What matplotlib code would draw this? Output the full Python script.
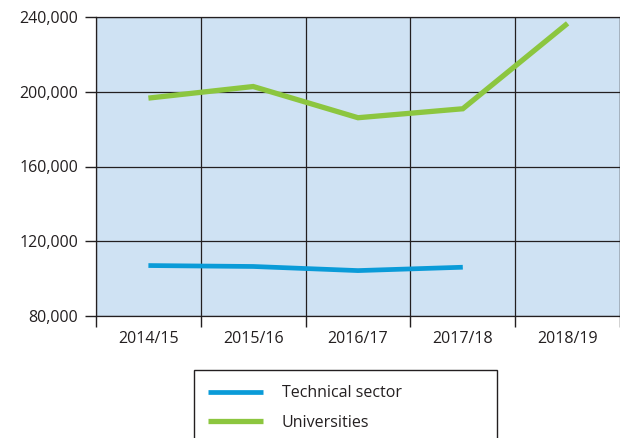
import numpy as np
import matplotlib.pyplot as plt
from matplotlib.patches import Rectangle
from matplotlib.ticker import FuncFormatter

# Student numbers by academic year
years = ['2014/15', '2015/16', '2016/17', '2017/18', '2018/19']
technical = [107000, 106500, 104300, 106100]
universities = [196600, 202800, 186100, 190900, 236600]

plt.rcParams['font.family'] = ['Open Sans', 'DejaVu Sans']
text_col = '#231f20'
grid_col = '#231f20'

fig = plt.figure(figsize=(6.2, 4.38), dpi=100)
ax = fig.add_axes([96/620, 122/438, 524/620, 299/438])
ax.set_facecolor('#cfe2f3')

x = np.arange(len(years))
l1, = ax.plot(x[:len(technical)], technical, color='#0a9bd8', lw=3.4,
              solid_capstyle='butt', solid_joinstyle='miter', label='Technical sector')
l2, = ax.plot(x, universities, color='#8cc63f', lw=3.8,
              solid_capstyle='butt', solid_joinstyle='miter', label='Universities')

ax.set_xlim(-0.5, len(years) - 0.5)
ax.set_ylim(80000, 240000)
ax.set_yticks(np.arange(80000, 240001, 40000))
ax.yaxis.set_major_formatter(FuncFormatter(lambda v, p: f'{int(v):,}'))

# category labels in the middle, ticks and grid on the boundaries
ax.set_xticks(x)
ax.set_xticklabels(years)
ax.set_xticks(np.arange(-0.5, len(years)), minor=True)
ax.tick_params(axis='x', which='major', length=0, pad=11, labelsize=11.5, labelcolor=text_col)
ax.tick_params(axis='x', which='minor', length=8, width=1, color=grid_col)
ax.tick_params(axis='y', length=8, width=1, color=grid_col, pad=5,
               labelsize=11.5, labelcolor=text_col)
ax.grid(axis='y', which='major', color=grid_col, lw=0.9)
ax.grid(axis='x', which='minor', color=grid_col, lw=0.9)
ax.set_axisbelow(True)
for s in ax.spines.values():
    s.set_color(grid_col)
    s.set_linewidth(0.9)

# legend box below the chart
fig.patches.append(Rectangle((194/620, -0.05), 303/620, 0.05 + 68/438,
                             transform=fig.transFigure, fill=False,
                             ec='#231f20', lw=1.0))
fig.legend(handles=[l1, l2], loc='upper left', bbox_to_anchor=(194/620, 67/438),
           frameon=False, fontsize=11.5, handlelength=3.4, handletextpad=1.2,
           labelspacing=0.85, labelcolor=text_col)

fig.savefig('out.png', dpi=100)
